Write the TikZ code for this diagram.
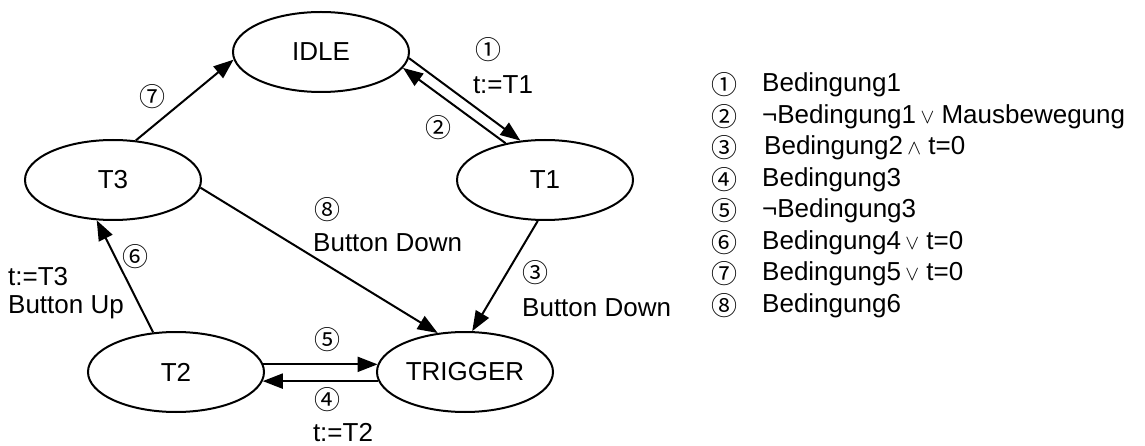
\documentclass[tikz,border=0pt]{standalone}
\usepackage{fontspec}
\setmainfont{Liberation Sans}
\newfontfamily\circfont{Noto Sans CJK SC}
\usetikzlibrary{shapes.geometric, arrows.meta}

\newcommand{\cnot}{¬}
\newcommand{\cor}{\,{\fontsize{20}{20}\selectfont$\vee$}}
\newcommand{\cand}{\,{\fontsize{20}{20}\selectfont$\wedge$}}

\begin{document}
\begin{tikzpicture}[
        x=1pt, y=-1pt,
        state/.style={ellipse, draw, line width=2pt, minimum width=176pt, minimum height=80pt, inner sep=0pt, font=\fontsize{26}{31}\selectfont},
        trans/.style={line width=2pt, -{Triangle[length=20pt, width=15pt]}},
        lbl/.style={font=\fontsize{26}{31}\selectfont, inner sep=0pt},
        num/.style={font=\circfont\fontsize{26}{30}\selectfont, inner sep=0pt}
    ]
    \useasboundingbox (0,0) rectangle (1145,446);

    % States
    \node[state] (IDLE) at (321,52) {IDLE};
    \node[state] (T1) at (545,180) {T1};
    \node[state] (T3) at (113,180) {T3};
    \node[state] (T2) at (176,372) {T2};
    \node[state] (TRIGGER) at (465,372) {TRIGGER};

    % Transitions
    \draw[trans] (IDLE.-4) -- (T1.122);
    \draw[trans] (T1.137) -- (IDLE.-11);
    \draw[trans] (T1.-100) -- (TRIGGER.80);
    \draw[trans] (T3.-5) -- (TRIGGER.125);
    \draw[trans] (T2.5) -- (TRIGGER.175);
    \draw[trans] (TRIGGER.186) -- (T2.-6);
    \draw[trans] (T2.120) -- (T3.-112);
    \draw[trans] (T3.60) -- (IDLE.185);

    % Transition labels
    \node[num] (l1) at (488,50) {①};
    \node[lbl] (a1) at (503,85) {t:=T1};
    \node[num] (l2) at (438,128) {②};
    \node[num] (l3) at (535,273) {③};
    \node[lbl, anchor=west] (a3) at (522,308) {Button Down};
    \node[num] (l8) at (327,210) {⑧};
    \node[lbl, anchor=west] (a8) at (313,243) {Button Down};
    \node[num] (l5) at (327,340) {⑤};
    \node[num] (l4) at (327,400) {④};
    \node[lbl] (a4) at (343,433) {t:=T2};
    \node[num] (l6) at (135,257) {⑥};
    \node[lbl, anchor=west] (a6) at (8,277) {t:=T3};
    \node[lbl, anchor=west] (b6) at (8,307) {Button Up};
    \node[num] (l7) at (152,97) {⑦};

    % Legend
    \node[num] (c1) at (724,85) {①};
    \node[num] (c2) at (724,116.5) {②};
    \node[num] (c3) at (724,148) {③};
    \node[num] (c4) at (724,179.5) {④};
    \node[num] (c5) at (724,211) {⑤};
    \node[num] (c6) at (724,242.5) {⑥};
    \node[num] (c7) at (724,274) {⑦};
    \node[num] (c8) at (724,305.5) {⑧};
    \node[lbl, anchor=west] (d1) at (762,85) {Bedingung1};
    \node[lbl, anchor=west] (d2) at (762,116.5) {\cnot Bedingung1\cor\ Mausbewegung};
    \node[lbl, anchor=west] (d3) at (764,148) {Bedingung2\cand\ t=0};
    \node[lbl, anchor=west] (d4) at (762,179.5) {Bedingung3};
    \node[lbl, anchor=west] (d5) at (762,211) {\cnot Bedingung3};
    \node[lbl, anchor=west] (d6) at (762,242.5) {Bedingung4\cor\ t=0};
    \node[lbl, anchor=west] (d7) at (762,274) {Bedingung5\cor\ t=0};
    \node[lbl, anchor=west] (d8) at (762,305.5) {Bedingung6};
\end{tikzpicture}
\end{document}
